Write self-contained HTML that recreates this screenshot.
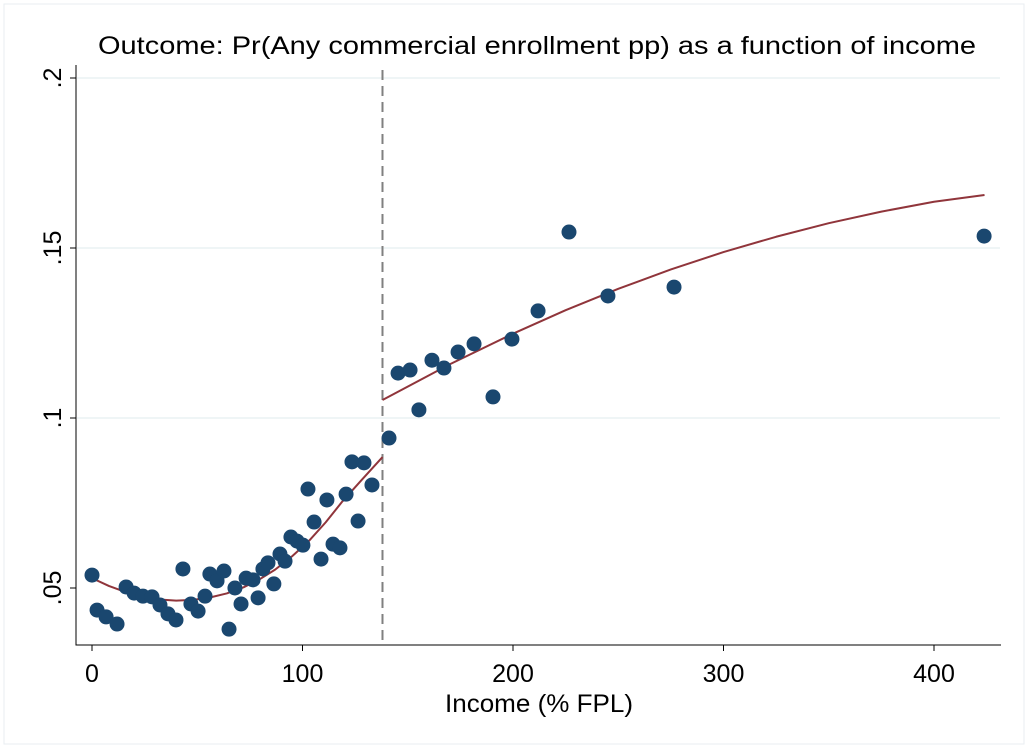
<!DOCTYPE html>
<html><head><meta charset="utf-8"><style>
body{margin:0;background:#fff;font-family:"Liberation Sans",Arial,sans-serif}
svg{display:block}
</style></head><body>
<svg id="chart" width="1028" height="748" xmlns="http://www.w3.org/2000/svg">
<rect x="0" y="0" width="1028" height="748" fill="#fff"/>
<rect x="4" y="4" width="1020" height="740" fill="none" stroke="#e8eef2" stroke-width="1"/>
<text x="537" y="54" text-anchor="middle" font-size="25" textLength="878" lengthAdjust="spacingAndGlyphs" fill="#000">Outcome: Pr(Any commercial enrollment pp) as a function of income</text>
<text x="539" y="712" text-anchor="middle" font-size="25" textLength="188" lengthAdjust="spacingAndGlyphs" fill="#000">Income (% FPL)</text>
<g id="grid"></g>
<g id="axes"></g>
<g id="fits"></g>
<g id="pts"></g>
</svg>
<script>
const incomeX=[0,2.4,6.7,11.9,16.2,20,24.2,28.5,32.3,36.1,39.9,43.2,47,50.4,53.7,56,59.4,62.7,65.1,67.9,70.8,73.2,76.5,78.9,81.2,83.6,86.4,89.3,91.7,94.5,97.4,100.2,102.6,105.5,108.8,111.6,114.5,117.8,120.7,123.5,126.4,129.2,133,141.1,145.4,151.1,155.3,161.5,167.2,173.9,181.5,190.5,199.5,211.9,226.6,245.1,276.5,423.8];
const enrollY=[.0538,.0435,.0415,.0394,.0503,.0485,.0476,.0474,.045,.0424,.0406,.0556,.0453,.0432,.0476,.0541,.0521,.055,.0379,.05,.0453,.0529,.0524,.0471,.0556,.0574,.0512,.06,.0579,.065,.0638,.0626,.0791,.0694,.0585,.0759,.0629,.0618,.0776,.0871,.0697,.0868,.0803,.0941,.1132,.1141,.1024,.117,.1147,.1194,.1218,.1062,.1232,.1315,.1547,.1359,.1385,.1535];
const fitLeftX=[0,8,16,24,32,40,48,56,64,72,80,87,95,103,111,119,128,138];
const fitLeftY=[.0529,.0506,.0488,.0475,.0466,.0463,.0465,.0472,.0484,.0502,.0527,.0554,.0593,.0638,.0693,.0755,.0817,.0885];
const fitRightX=[138,170,200,225,250,275,300,325,350,375,400,424];
const fitRightY=[.1053,.1158,.1248,.1317,.1380,.1437,.1488,.1533,.1573,.1607,.1636,.1656];
const xTicks=[0,100,200,300,400];
const xTickLabels=["0","100","200","300","400"];
const yTicks=[.05,.1,.15,.2];
const yTickLabels=[".05",".1",".15",".2"];
const cutoff=138;
const NS="http://www.w3.org/2000/svg";
const sx=v=>92+v*2.105, sy=v=>588-(v-.05)*3400;
function mk(tag,attrs,parent){const e=document.createElementNS(NS,tag);for(const k in attrs)e.setAttribute(k,attrs[k]);document.getElementById(parent).appendChild(e);return e;}
yTicks.forEach((t,i)=>{
  if(t>.05){const g=mk('line',{x1:77,x2:1000,y1:sy(t),y2:sy(t),stroke:'#eaf2f3','stroke-width':1.5},'grid');
  
  }
  const tk=mk('line',{x1:70,x2:76,y1:sy(t),y2:sy(t),stroke:'#000','stroke-width':1},'axes');
  
  
  const y=sy(t);
  const tx=mk('text',{x:0,y:0,'font-size':25,'text-anchor':'middle',transform:`translate(61,${y}) rotate(-90)`},'axes');
  tx.textContent=yTickLabels[i];
  
  
});
xTicks.forEach((t,i)=>{
  const tk=mk('line',{x1:sx(t),x2:sx(t),y1:645,y2:651,stroke:'#000','stroke-width':1},'axes');
  
  
  const tx=mk('text',{x:sx(t),y:682,'font-size':25,'text-anchor':'middle'},'axes');
  tx.textContent=xTickLabels[i];
  
  
});
const ya=mk('line',{x1:76,x2:76,y1:65,y2:645.5,stroke:'#000','stroke-width':1},'axes');


const xa=mk('line',{x1:75.5,x2:1001,y1:645,y2:645,stroke:'#000','stroke-width':1},'axes');


const cl=mk('line',{x1:sx(cutoff),x2:sx(cutoff),y1:70,y2:645,stroke:'#808080','stroke-width':2,'stroke-dasharray':'10,6'},'axes');


function poly(xs,ys,name){
  const p=mk('polyline',{points:xs.map((x,i)=>sx(x)+','+sy(ys[i])).join(' '),fill:'none',stroke:'#90353b','stroke-width':2,'stroke-linejoin':'round'},'fits');
  
  
}
poly(fitLeftX,fitLeftY,'fit-line-below-cutoff');
poly(fitRightX,fitRightY,'fit-line-above-cutoff');
incomeX.forEach((x,i)=>{
  const c=mk('circle',{cx:sx(x),cy:sy(enrollY[i]),r:7.5,fill:'#1a476f'},'pts');
  
  
});
</script>
</body></html>
